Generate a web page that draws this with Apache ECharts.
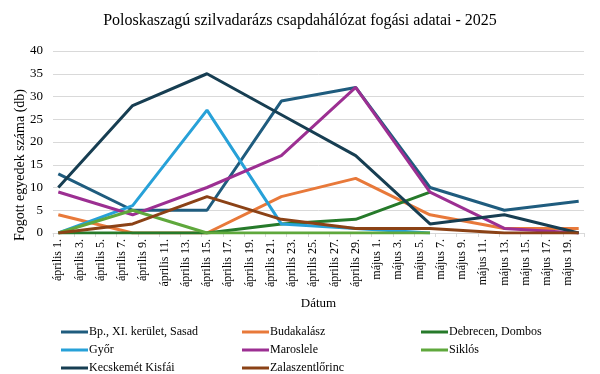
<!DOCTYPE html>
<html>
<head>
<meta charset="utf-8">
<script src="https://cdn.jsdelivr.net/npm/echarts@6/dist/echarts.min.js"></script>
<style>html,body{margin:0;padding:0;background:#fff}#c{width:600px;height:374px}</style>
</head>
<body>
<div id="c"></div>
<script>
// Axis days: április 1. – május 20.
const dayLabels = [];
for (let d = 1; d <= 30; d++) dayLabels.push('április ' + d + '.');
for (let d = 1; d <= 20; d++) dayLabels.push('május ' + d + '.');

// Sampling dates (weekly)
const sampleDates = ['április 1.', 'április 8.', 'április 15.', 'április 22.', 'április 29.', 'május 6.', 'május 13.', 'május 20.'];

const seriesNames = ['Bp., XI. kerület, Sasad', 'Budakalász', 'Debrecen, Dombos', 'Győr', 'Maroslele', 'Siklós', 'Kecskemét Kisfái', 'Zalaszentlőrinc'];
const bpSasad        = [13, 5, 5, 29, 32, 10, 5, 7];
const budakalasz     = [4, 0, 0, 8, 12, 4, 1, 1];
const debrecenDombos = [0, 0, 0, 2, 3, 9, null, null];
const gyor           = [0, 6, 27, 2, 1, 0, null, null];
const maroslele      = [9, 4, 10, 17, 32, 9, 1, 0];
const siklos         = [0, 5, 0, 0, 0, 0, null, null];
const kecskemet      = [10, 28, 35, 26, 17, 2, 4, 0];
const zalaszent      = [0, 2, 8, 3, 1, 1, 0, 0];
const allValues = [bpSasad, budakalasz, debrecenDombos, gyor, maroslele, siklos, kecskemet, zalaszent];
const colors = ['#1f5c7e', '#e8793a', '#267a2a', '#27a1d8', '#9c2f92', '#5fa83c', '#173e52', '#8b4216'];

const FONT = '"Liberation Serif", "Times New Roman", serif';

const series = seriesNames.map((name, i) => ({
  name: name,
  type: 'line',
  symbol: 'none',
  color: colors[i],
  lineStyle: { width: 3, color: colors[i] },
  data: sampleDates.map((d, j) => allValues[i][j] == null ? null : [d, allValues[i][j]]).filter(p => p !== null)
}));

// legend grid: 3 columns
const legendColX = [61, 242, 421];
const legendRowY = [332, 350, 368];
const legends = seriesNames.map((name, i) => ({
  data: [name],
  left: legendColX[i % 3],
  top: legendRowY[Math.floor(i / 3)] - 8,
  orient: 'horizontal',
  padding: 0,
  icon: 'rect',
  itemWidth: 27,
  itemHeight: 3,
  textStyle: { fontFamily: FONT, fontSize: 12, color: '#000', lineHeight: 16, padding: [0, 0, 0, -4] }
}));

const chart = echarts.init(document.getElementById('c'));
chart.setOption({
  animation: false,
  textStyle: { fontFamily: FONT },
  title: {
    text: 'Poloskaszagú szilvadarázs csapdahálózat fogási adatai - 2025',
    left: 'center',
    top: 8,
    textStyle: { fontFamily: FONT, fontSize: 16, fontWeight: 'normal', color: '#000' }
  },
  legend: legends,
  grid: { left: 53, right: 16, top: 51, bottom: 141, containLabel: false, outerBoundsMode: 'none' },
  xAxis: {
    type: 'category',
    data: dayLabels,
    boundaryGap: true,
    name: 'Dátum',
    nameLocation: 'middle',
    nameGap: 64,
    nameMoveOverlap: false,
    nameTextStyle: { fontFamily: FONT, fontSize: 13, color: '#000' },
    axisLine: { lineStyle: { color: '#d9d9d9', width: 1 } },
    axisTick: { show: true, interval: 1, length: 4, lineStyle: { color: '#d9d9d9' } },
    axisLabel: { interval: 1, rotate: 90, margin: 6, fontFamily: FONT, fontSize: 12, color: '#000' },
    splitLine: { show: false }
  },
  yAxis: {
    type: 'value',
    min: 0,
    max: 40,
    interval: 5,
    name: 'Fogott egyedek száma (db)',
    nameLocation: 'middle',
    nameGap: 26,
    nameRotate: 90,
    nameMoveOverlap: false,
    nameTextStyle: { fontFamily: FONT, fontSize: 14, color: '#000', padding: [0, 46, 0, 0] },
    axisLine: { show: false },
    axisTick: { show: false },
    axisLabel: { margin: 10, fontFamily: FONT, fontSize: 13, color: '#000' },
    splitLine: { lineStyle: { color: '#d9d9d9', width: 1 } }
  },
  series: series
});
</script>
</body>
</html>
